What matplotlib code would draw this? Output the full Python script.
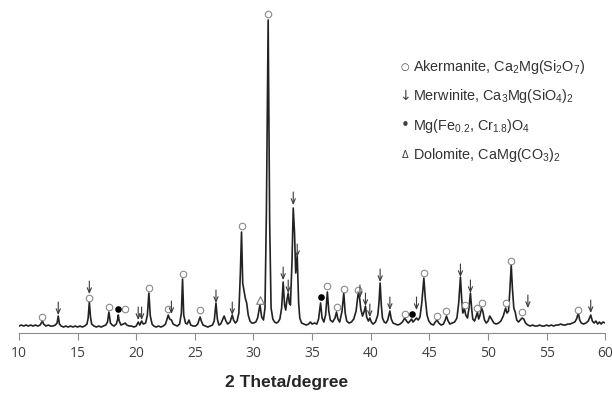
import matplotlib
matplotlib.use("Agg")
import matplotlib.pyplot as plt

# XRD trace (2 theta in degrees, intensity in arbitrary units)
two_theta = [
    10.0, 10.2, 10.4, 10.6, 10.8, 11.0, 11.2, 11.4, 11.6, 11.8, 11.9, 12.0, 12.1, 12.3, 12.5,
    12.7, 12.9, 13.1, 13.25, 13.35, 13.45, 13.6, 13.8, 14.0, 14.2, 14.4, 14.6, 14.8, 15.0, 15.2,
    15.4, 15.6, 15.8, 15.9, 16.0, 16.1, 16.2, 16.4, 16.6, 16.8, 17.0, 17.2, 17.4, 17.55, 17.67,
    17.8, 17.95, 18.1, 18.3, 18.4, 18.47, 18.55, 18.7, 18.9, 19.05, 19.2, 19.4, 19.6, 19.8, 20.0,
    20.17, 20.3, 20.46, 20.6, 20.8, 20.95, 21.08, 21.2, 21.35, 21.5, 21.7, 21.9, 22.1, 22.3, 22.5,
    22.63, 22.73, 22.85, 23.0, 23.15, 23.3, 23.5, 23.7, 23.85, 23.95, 24.05, 24.2, 24.35, 24.5,
    24.65, 24.85, 25.05, 25.25, 25.35, 25.45, 25.55, 25.7, 25.9, 26.1, 26.3, 26.5, 26.65, 26.8,
    26.92, 27.05, 27.2, 27.35, 27.5, 27.65, 27.8, 28.0, 28.19, 28.3, 28.45, 28.6, 28.75, 28.88,
    28.98, 29.08, 29.2, 29.3, 29.42, 29.55, 29.7, 29.85, 30.0, 30.2, 30.35, 30.55, 30.7, 30.85,
    30.98, 31.1, 31.25, 31.38, 31.5, 31.65, 31.8, 31.95, 32.1, 32.25, 32.4, 32.53, 32.65, 32.75,
    32.85, 32.96, 33.05, 33.15, 33.28, 33.39, 33.5, 33.6, 33.73, 33.85, 33.95, 34.1, 34.3, 34.5,
    34.7, 34.85, 35.0, 35.2, 35.4, 35.55, 35.72, 35.85, 36.0, 36.15, 36.3, 36.42, 36.55, 36.75,
    36.95, 37.08, 37.2, 37.35, 37.55, 37.7, 37.82, 37.95, 38.15, 38.35, 38.55, 38.75, 38.93,
    39.05, 39.15, 39.3, 39.45, 39.55, 39.65, 39.8, 39.92, 40.05, 40.2, 40.4, 40.6, 40.7, 40.8,
    40.9, 41.0, 41.15, 41.3, 41.45, 41.63, 41.75, 41.9, 42.1, 42.3, 42.5, 42.7, 42.9, 43.05,
    43.2, 43.35, 43.48, 43.6, 43.75, 43.9, 44.05, 44.2, 44.35, 44.53, 44.65, 44.8, 44.95, 45.15,
    45.35, 45.5, 45.66, 45.8, 46.0, 46.2, 46.35, 46.46, 46.6, 46.75, 46.95, 47.15, 47.35, 47.5,
    47.65, 47.75, 47.85, 48.0, 48.1, 48.25, 48.38, 48.5, 48.6, 48.7, 48.85, 49.0, 49.1, 49.2,
    49.3, 49.45, 49.55, 49.7, 49.85, 50.0, 50.15, 50.3, 50.5, 50.7, 50.9, 51.1, 51.3, 51.5,
    51.62, 51.75, 51.85, 51.98, 52.08, 52.2, 52.32, 52.45, 52.6, 52.75, 52.9, 53.05, 53.2, 53.4,
    53.6, 53.8, 54.0, 54.2, 54.4, 54.6, 54.8, 55.0, 55.2, 55.4, 55.6, 55.8, 56.0, 56.2, 56.4,
    56.6, 56.8, 57.0, 57.2, 57.4, 57.55, 57.7, 57.82, 57.95, 58.15, 58.35, 58.55, 58.76, 58.9,
    59.05, 59.2, 59.35, 59.5, 59.65, 59.8, 60.0,
]
counts = [
    7, 8, 7, 8, 7, 8, 7, 8, 7, 8, 10, 12, 9, 7, 8,
    7, 7, 8, 10, 17, 9, 7, 6, 7, 6, 7, 6, 7, 6, 7,
    6, 7, 9, 15, 31, 16, 9, 7, 6, 7, 6, 7, 8, 11, 21,
    10, 8, 7, 9, 13, 18, 12, 8, 9, 10, 8, 7, 7, 6, 7,
    11, 8, 12, 9, 10, 18, 40, 17, 9, 7, 6, 7, 6, 7, 9,
    14, 18, 14, 13, 9, 8, 7, 9, 20, 54, 18, 10, 9, 13,
    8, 7, 7, 9, 13, 16, 12, 8, 7, 6, 7, 8, 12, 30,
    14, 8, 9, 13, 17, 12, 9, 11, 18, 13, 10, 12, 20, 60,
    101, 50, 42, 35, 30, 18, 12, 10, 10, 11, 15, 28, 16, 13,
    25, 120, 313, 110, 25, 14, 11, 10, 11, 14, 25, 51, 28, 23,
    33, 40, 30, 28, 70, 125, 100, 60, 77, 30, 15, 10, 9, 8,
    9, 11, 9, 10, 9, 14, 30, 15, 11, 18, 41, 22, 13, 11,
    15, 21, 14, 11, 22, 40, 20, 12, 10, 11, 14, 22, 40,
    35, 24, 17, 22, 27, 16, 12, 15, 11, 9, 11, 18, 30, 50,
    28, 15, 11, 10, 13, 22, 14, 10, 9, 8, 9, 11, 15, 12,
    10, 12, 14, 11, 13, 15, 13, 16, 30, 55, 35, 18, 12, 9,
    8, 11, 13, 10, 8, 9, 13, 17, 12, 9, 10, 11, 15, 30,
    56, 35, 20, 24, 18, 15, 25, 40, 25, 14, 12, 17, 21, 14,
    17, 25, 22, 13, 10, 12, 17, 14, 10, 9, 10, 12, 17, 25,
    20, 22, 40, 68, 45, 25, 21, 13, 11, 13, 15, 14, 10, 8,
    7, 8, 7, 7, 8, 7, 7, 8, 7, 8, 7, 8, 8, 9, 8,
    8, 9, 9, 10, 11, 14, 20, 13, 10, 9, 10, 12, 18, 12,
    10, 12, 9, 11, 9, 11, 10,
]

# phase markers: position and height of each symbol
akermanite_x = [12.0, 16.0, 17.67, 19.04, 21.08, 22.73, 23.95, 25.43, 28.98, 31.25, 36.3,
                37.08, 37.7, 38.93, 42.9, 44.53, 45.66, 46.46, 48.0, 49.1, 49.5, 51.5,
                52.0, 52.9, 57.7]
akermanite_y = [16, 35, 26, 24, 45, 24, 59, 23, 107, 319, 47,
                26, 44, 43, 19, 60, 17, 22, 28, 25, 30, 30,
                72, 21, 23]
merwinite_x = [13.35, 16.0, 20.17, 20.46, 23.0, 26.8, 28.19, 32.53, 32.96, 33.39, 33.73,
               39.08, 39.55, 39.92, 40.8, 41.63, 43.9, 47.65, 48.5, 53.4, 58.76]
merwinite_y = [18, 39, 13, 13, 19, 30, 18, 53, 40, 128, 76,
               35, 27, 16, 51, 23, 23, 56, 40, 25, 20]
spinel_x = [18.47, 35.72, 43.48]
spinel_y = [24, 36, 19]
dolomite_x = [30.55]
dolomite_y = [33]

legend_symbols = ["\u25cb", "\u2193", "\u2022", "\u0394"]
legend_labels = [
    "Akermanite, Ca$_2$Mg(Si$_2$O$_7$)",
    "Merwinite, Ca$_3$Mg(SiO$_4$)$_2$",
    "Mg(Fe$_{0.2}$, Cr$_{1.8}$)O$_4$",
    "Dolomite, CaMg(CO$_3$)$_2$",
]

plt.rcParams["font.family"] = ["Liberation Sans", "DejaVu Sans"]
plt.rcParams["mathtext.fontset"] = "custom"
plt.rcParams["mathtext.rm"] = "Liberation Sans"
plt.rcParams["mathtext.it"] = "Liberation Sans"
plt.rcParams["mathtext.default"] = "regular"

fig = plt.figure(figsize=(6.12, 3.96), dpi=100)
ax = fig.add_axes([0.031, 0.159, 0.958, 0.841])

ax.plot(two_theta, counts, color="#222222", lw=1.2)

ax.scatter(akermanite_x, akermanite_y, s=22, facecolors="white", edgecolors="#8a8a8a",
           linewidths=0.8, zorder=3)
ax.scatter(spinel_x, spinel_y, s=14, color="black", zorder=3)
ax.scatter(dolomite_x, dolomite_y, s=30, marker="^", facecolors="white",
           edgecolors="#7a7a7a", linewidths=0.8, zorder=3)
for x, y in zip(merwinite_x, merwinite_y):
    ax.annotate("", xy=(x, y), xytext=(x, y + 13),
                arrowprops=dict(arrowstyle="->,head_length=0.35,head_width=0.15",
                                color="#3a3a3a", lw=0.8, shrinkA=0, shrinkB=0))

ax.set_xlim(10, 60)
ax.set_ylim(0, 333)
ax.set_xticks(range(10, 61, 5))
ax.set_yticks([])
for side in ["left", "right", "top"]:
    ax.spines[side].set_visible(False)
ax.spines["bottom"].set_color("#8c8c8c")
ax.tick_params(axis="x", direction="out", length=5, color="#8c8c8c",
               labelsize=10, labelcolor="#404040", pad=4)
for lab in ax.get_xticklabels():
    lab.set_family(["Open Sans", "DejaVu Sans"])

fig.text(0.468, 0.033, "2 Theta/degree", ha="center", va="center",
         fontsize=12.5, fontweight="bold", color="#262626")

legend_y = [67, 96, 126, 155]
symbol_size = [7, 10, 11, 7]
for sym, lab, yp, fs in zip(legend_symbols, legend_labels, legend_y, symbol_size):
    fig.text(405 / 612, 1 - yp / 396, sym, ha="center", va="center", fontsize=fs,
             color="#404040", family=["DejaVu Sans"])
    fig.text(413 / 612, 1 - yp / 396, lab, ha="left", va="center", fontsize=10.4,
             color="#333333")

fig.savefig("out.png", dpi=100)
